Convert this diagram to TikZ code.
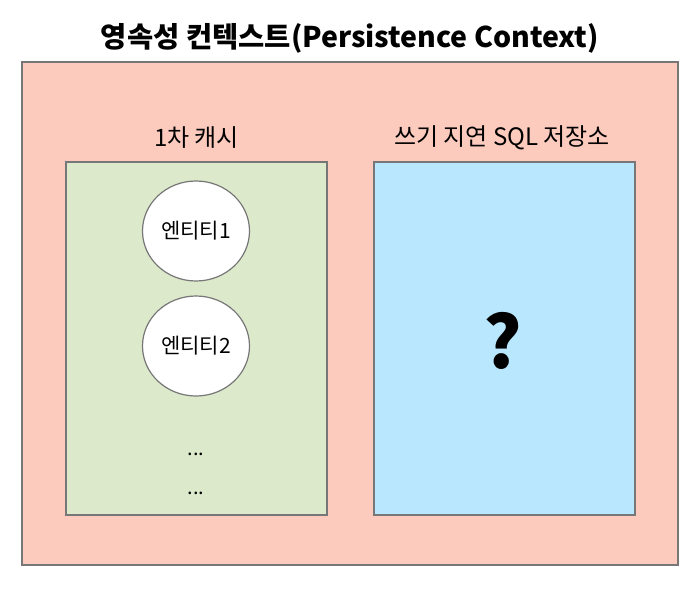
\documentclass[tikz,border=0pt]{standalone}
\usepackage{fontspec}
\setmainfont{Noto Sans CJK KR}
\usetikzlibrary{shapes.geometric}

\definecolor{ctxfill}{HTML}{FCCBBE}
\definecolor{cachefill}{HTML}{DDE9CB}
\definecolor{sqlfill}{HTML}{B9E7FD}
\definecolor{edgegray}{HTML}{777777}

\begin{document}
\begin{tikzpicture}[x=1pt, y=-1pt,
    box/.style={draw=edgegray, line width=1.2pt, inner sep=0pt},
    entity/.style={ellipse, draw=edgegray, line width=1.2pt, fill=white,
        minimum width=107pt, minimum height=100pt, inner sep=0pt,
        font=\fontsize{21}{24}\selectfont},
    label/.style={font=\fontsize{24}{28}\selectfont}]
    \useasboundingbox (0, 0) rectangle (700, 591);

    \node[font=\bfseries\fontsize{28.5}{32}\selectfont] (title) at (350, 38) {영속성 컨텍스트(Persistence Context)};
    \node[box, fill=ctxfill, minimum width=656pt, minimum height=503pt] (ctx) at (350, 313.5) {};

    \node[box, fill=cachefill, minimum width=261pt, minimum height=353pt] (cache) at (196.5, 338.5) {};
    \node[label] (cachelabel) at (196.5, 138) {1차 캐시};
    \node[entity] (e1) at (196, 231) {엔티티1};
    \node[entity] (e2) at (196, 346) {엔티티2};
    \node[font=\fontsize{20}{22}\selectfont] (dots1) at (196, 454) {...};
    \node[font=\fontsize{20}{22}\selectfont] (dots2) at (196, 493) {...};

    \node[box, fill=sqlfill, minimum width=261pt, minimum height=353pt] (sql) at (504.5, 338.5) {};
    \node[label] (sqllabel) at (502, 138) {쓰기 지연 SQL 저장소};
    \node[font=\bfseries\fontsize{72}{80}\selectfont] (unknown) at (503, 341) {?};
\end{tikzpicture}
\end{document}
